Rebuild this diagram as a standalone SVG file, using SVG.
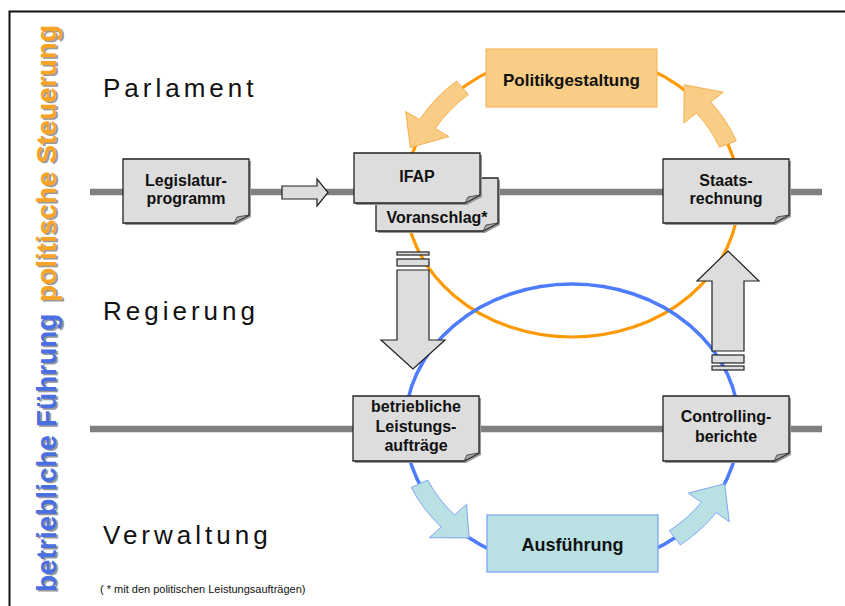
<svg xmlns="http://www.w3.org/2000/svg" width="845" height="606" viewBox="0 0 845 606">
<style>
.lbl{font-family:"Liberation Sans",Arial,sans-serif;font-size:26px;letter-spacing:4px;fill:#111}
.bt{font-family:"Liberation Sans",Arial,sans-serif;font-weight:bold;font-size:16px;fill:#111;text-anchor:middle}
.vt{font-family:"Liberation Sans",Arial,sans-serif;font-weight:bold;font-size:28px}
.doc{fill:#dddddd;stroke:#222;stroke-width:1.3}
.sh{fill:#999}
.fold{fill:#aaa;stroke:#333;stroke-width:0.8}
.blk{fill:#dddddd;stroke:#222;stroke-width:1.2}
.oar{fill:#f9cd86;stroke:#f4b04e;stroke-width:1}
.bar{fill:#b9e0e3;stroke:#7ea6f2;stroke-width:1}
.gl{stroke:#808080;stroke-width:6.5}
</style>
<rect width="845" height="606" fill="#fff"/>
<path d="M9.5,606 V11.5 H845" fill="none" stroke="#111" stroke-width="2"/>

<g id="side-labels">
<text class="vt" transform="translate(57.5,593.5) rotate(-90)" fill="#9a9a9a">betriebliche Führung</text>
<text class="vt" transform="translate(56,592) rotate(-90)" fill="#4a6fe3">betriebliche Führung</text>
<text class="vt" transform="translate(57.5,26.5) rotate(-90)" text-anchor="end" fill="#9a9a9a">politische Steuerung</text>
<text class="vt" transform="translate(56,25) rotate(-90)" text-anchor="end" fill="#f7a428">politische Steuerung</text>
</g>

<g id="levels">
<line class="gl" x1="90" y1="192" x2="822" y2="192"/>
<line class="gl" x1="90" y1="429" x2="822" y2="429"/>
<text class="lbl" x="103" y="97">Parlament</text>
<text class="lbl" x="103" y="320">Regierung</text>
<text class="lbl" x="103" y="544">Verwaltung</text>
</g>

<g id="connectors">
<ellipse cx="572" cy="195" rx="167" ry="142" fill="none" stroke="#ff9900" stroke-width="3.2"/>
<ellipse cx="572" cy="426" rx="167" ry="142" fill="none" stroke="#4d7cff" stroke-width="3.5"/>
<path class="oar" d="M456.5,81 A176,151 0 0 0 419.6,119.5 L405.7,111.5 L410.3,147.5 L449,136.5 L435.2,128.5 A158,133 0 0 1 468.3,94.6 Z"/>
<path class="oar" d="M736.3,140.9 A176,151 0 0 0 710.7,102 L723.3,92.2 L684.2,84.8 L683.9,123 L696.5,113.1 A158,133 0 0 1 719.5,147.3 Z"/>
<path class="bar" d="M411.2,487.4 A176,151 0 0 0 441.2,527 L429.3,537.7 L469.2,537.9 L466.5,504.3 L454.6,515 A158,133 0 0 1 427.7,480.1 Z"/>
<path class="bar" d="M680.4,545 A176,151 0 0 0 716.2,512.6 L729.3,521.8 L724.6,483.8 L688.3,493.1 L701.4,502.3 A158,133 0 0 1 669.3,530.8 Z"/>
<polygon class="blk" points="282,186 317,186 317,179 328,192.5 317,206 317,199 282,199"/>
<rect class="blk" x="397" y="252" width="32" height="3"/>
<rect class="blk" x="397" y="259" width="32" height="7"/>
<polygon class="blk" points="397,270 429,270 429,340 445,340 413,369 381,340 397,340"/>
<polygon class="blk" points="728,251 759,281 744,281 744,351 712,351 712,281 697,281"/>
<rect class="blk" x="712" y="355" width="32" height="8"/>
<rect class="blk" x="712" y="366" width="32" height="4"/>
</g>

<g id="politikgestaltung">
<rect x="486" y="49" width="171" height="58" fill="#f9cd86" stroke="#f4b04e" stroke-width="1"/>
<text class="bt" x="571.5" y="86" style="font-size:17px">Politikgestaltung</text>
</g>

<g id="ausfuehrung">
<rect x="487" y="515" width="171" height="57" fill="#b9e0e3" stroke="#7ea6f2" stroke-width="1.3"/>
<text class="bt" x="572.5" y="551" style="font-size:18px">Ausführung</text>
</g>

<g id="legislaturprogramm">
<path class="sh" d="M125,161 H251 V217 L236,225 H125 Z"/>
<path class="doc" d="M123,159 H249 V215 L234,223 H123 Z"/>
<path class="fold" d="M249,215 L234,223 L237,217 Z"/>
<text class="bt" x="186" y="186">Legislatur-</text>
<text class="bt" x="186" y="204">programm</text>
</g>

<g id="voranschlag">
<path class="sh" d="M378,180 H500 V225 L485,233 H378 Z"/>
<path class="doc" d="M376,178 H498 V223 L483,231 H376 Z"/>
<path class="fold" d="M498,223 L483,231 L486,225 Z"/>
<text class="bt" x="437" y="223">Voranschlag*</text>
</g>

<g id="ifap">
<path class="sh" d="M356,155 H482 V197 L467,205 H356 Z"/>
<path class="doc" d="M354,153 H480 V195 L465,203 H354 Z"/>
<path class="fold" d="M480,195 L465,203 L468,197 Z"/>
<text class="bt" x="417" y="182">IFAP</text>
</g>

<g id="staatsrechnung">
<path class="sh" d="M665,161 H791 V217 L776,225 H665 Z"/>
<path class="doc" d="M663,159 H789 V215 L774,223 H663 Z"/>
<path class="fold" d="M789,215 L774,223 L777,217 Z"/>
<text class="bt" x="726" y="186">Staats-</text>
<text class="bt" x="726" y="204">rechnung</text>
</g>

<g id="leistungsauftraege">
<path class="sh" d="M355,398 H481 V455 L466,463 H355 Z"/>
<path class="doc" d="M353,396 H479 V453 L464,461 H353 Z"/>
<path class="fold" d="M479,453 L464,461 L467,455 Z"/>
<text class="bt" x="416" y="412">betriebliche</text>
<text class="bt" x="416" y="432">Leistungs-</text>
<text class="bt" x="416" y="451">aufträge</text>
</g>

<g id="controllingberichte">
<path class="sh" d="M665,398 H791 V455 L776,463 H665 Z"/>
<path class="doc" d="M663,396 H789 V453 L774,461 H663 Z"/>
<path class="fold" d="M789,453 L774,461 L777,455 Z"/>
<text class="bt" x="726" y="422">Controlling-</text>
<text class="bt" x="726" y="442">berichte</text>
</g>

<text x="100" y="593" style="font-family:'Liberation Sans',Arial,sans-serif;font-size:11px;fill:#111">( * mit den politischen Leistungsaufträgen)</text>
</svg>
